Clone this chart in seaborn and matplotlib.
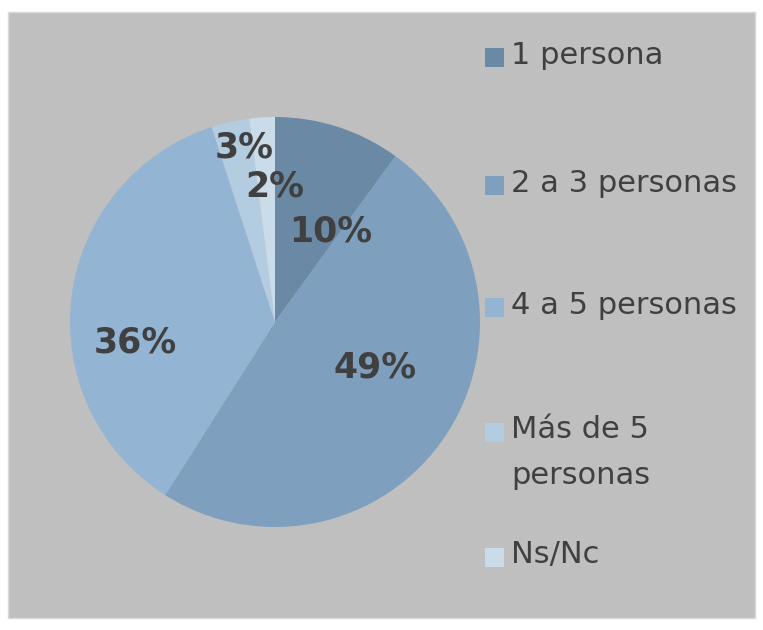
import matplotlib
matplotlib.use("Agg")
import matplotlib.pyplot as plt
import seaborn as sns
from matplotlib.patches import Rectangle

categories = ["1 persona", "2 a 3 personas", "4 a 5 personas", "Más de 5\npersonas", "Ns/Nc"]
shares = [10, 49, 36, 3, 2]
colors = ["#6a89a5", "#7ea0be", "#93b4d3", "#b4cce0", "#cadcea"]
# where Excel put each percentage label (pie radius = 1)
label_pos = [(0.27, 0.44), (0.49, -0.22), (-0.68, -0.10), (-0.15, 0.85), (0.0, 0.66)]
# legend rows, pixel from top of the picture
legend_y = [55, 183, 305, 430, 555]

W, H = 763, 630
sns.set_style("white")
plt.rcParams["font.family"] = ["DejaVu Sans"]

fig = plt.figure(figsize=(W / 100, H / 100), dpi=100)
fig.patches.append(Rectangle((8 / W, 1 - 618 / H), 747 / W, 606 / H,
                             transform=fig.transFigure, facecolor="#bfbfbf",
                             edgecolor="#d9d9d9", linewidth=1, zorder=-5))

ax = fig.add_axes([70 / W, 1 - 527 / H, 410 / W, 410 / H])
ax.set_facecolor("none")
wedges, texts, autotexts = ax.pie(shares, colors=colors, startangle=90, counterclock=False,
                                  autopct="%1.0f%%", radius=1,
                                  wedgeprops=dict(linewidth=0),
                                  textprops=dict(fontsize=25, fontweight="bold", color="#404040"))
for t, (x, y) in zip(autotexts, label_pos):
    t.set_position((x, y))
ax.set_xlim(-1, 1)
ax.set_ylim(-1, 1)
ax.set_aspect("equal")
ax.axis("off")

# legend, laid out the way Excel did it
for label, color, y in zip(categories, colors, legend_y):
    fig.patches.append(Rectangle((485 / W, 1 - (y + 12) / H), 19 / W, 19 / H,
                                 transform=fig.transFigure, facecolor=color,
                                 edgecolor="none"))
    for k, line in enumerate(label.split("\n")):
        fig.text(511 / W, 1 - (y + 45 * k) / H, line, fontsize=22, color="#404040",
                 ha="left", va="center")

fig.savefig("out.png", dpi=100, facecolor="white")
